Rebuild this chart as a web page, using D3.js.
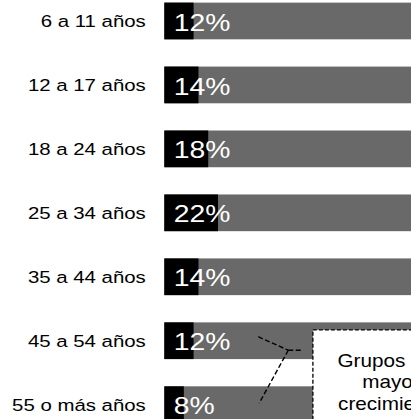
<!DOCTYPE html>
<html>
<head>
<meta charset="utf-8">
<script src="https://cdn.jsdelivr.net/npm/d3@7"></script>
<style>
  html, body { margin: 0; padding: 0; background: #fff; overflow: hidden; }
  svg { display: block; }
  text { font-family: "Liberation Sans", Arial, Helvetica, sans-serif; }
</style>
</head>
<body>
<svg id="chart" width="411" height="419"></svg>
<script>
// Age groups and their share (%)
const categories = ["6 a 11 años", "12 a 17 años", "18 a 24 años", "25 a 34 años", "35 a 44 años", "45 a 54 años", "55 o más años"];
const values = [12, 14, 18, 22, 14, 12, 8];
const valueLabels = ["12%", "14%", "18%", "22%", "14%", "12%", "8%"];
// Callout text
const calloutLines = ["Grupos con", "mayor", "crecimiento"];
const highlighted = ["45 a 54 años", "55 o más años"];

const width = 411, height = 419;
const svg = d3.select("#chart");

// Glyphs are drawn slightly widened
const stretch = 1.2;

const x = d3.scaleLinear().domain([0, 100]).range([164.3, 164.3 + 244]);
const y = d3.scaleBand()
  .domain(categories)
  .range([-11, -11 + 7 * 63.95])
  .paddingInner(0.426)
  .paddingOuter(0.213);

const rows = svg.append("g").selectAll("g.row")
  .data(categories.map((c, i) => ({ cat: c, value: values[i], label: valueLabels[i] })))
  .join("g").attr("class", "row");

// grey track spanning to the right edge
rows.append("rect")
  .attr("x", x(0))
  .attr("y", d => y(d.cat))
  .attr("width", width - x(0) + 10)
  .attr("height", y.bandwidth())
  .attr("fill", "#696969");

// value bar
rows.append("rect")
  .attr("x", x(0))
  .attr("y", d => y(d.cat))
  .attr("width", d => x(d.value) - x(0))
  .attr("height", y.bandwidth())
  .attr("fill", "#000");

// category labels
rows.append("text")
  .attr("transform", d => `translate(${x(0) - 18.5},${y(d.cat) + y.bandwidth() / 2}) scale(${stretch},1)`)
  .attr("dy", "0.35em")
  .attr("text-anchor", "end")
  .attr("font-size", 17)
  .attr("fill", "#000")
  .text(d => d.cat);

// value labels
rows.append("text")
  .attr("transform", d => `translate(${x(0) + 9.5},${y(d.cat) + y.bandwidth() / 2}) scale(${stretch - 0.02},1)`)
  .attr("dy", "0.4em")
  .attr("font-size", 24)
  .attr("fill", "#fff")
  .text(d => d.label);

// bracket joining the highlighted groups to the callout
const cA = y(highlighted[0]) + y.bandwidth() / 2;
const cB = y(highlighted[1]) + y.bandwidth() / 2;
const jx = x(50.8), jy = cA + 9.5;
const bracket = svg.append("g")
  .attr("fill", "none")
  .attr("stroke", "#000")
  .attr("stroke-width", 1.4)
  .attr("stroke-dasharray", "5,2.5");
bracket.append("line").attr("x1", x(38.5)).attr("y1", cA - 4).attr("x2", jx).attr("y2", jy);
bracket.append("line").attr("x1", jx).attr("y1", jy).attr("x2", x(56)).attr("y2", jy);
bracket.append("line").attr("x1", jx).attr("y1", jy).attr("x2", x(38.9)).attr("y2", cB - 1.5);

// callout box
const boxX = x(60.9), boxY = y(highlighted[0]) + 7.5;
svg.append("rect")
  .attr("x", boxX)
  .attr("y", boxY)
  .attr("width", 160)
  .attr("height", 140)
  .attr("fill", "#fff")
  .attr("stroke", "#000")
  .attr("stroke-width", 1.3)
  .attr("stroke-dasharray", "4,2");

const cx = boxX + 78;
svg.append("g").selectAll("text")
  .data(calloutLines)
  .join("text")
  .attr("transform", (d, i) => `translate(${cx},${boxY + 36.7 + i * 21.6}) scale(1.15,1)`)
  .attr("text-anchor", "middle")
  .attr("font-size", 18)
  .attr("fill", "#000")
  .text(d => d);
</script>
</body>
</html>
